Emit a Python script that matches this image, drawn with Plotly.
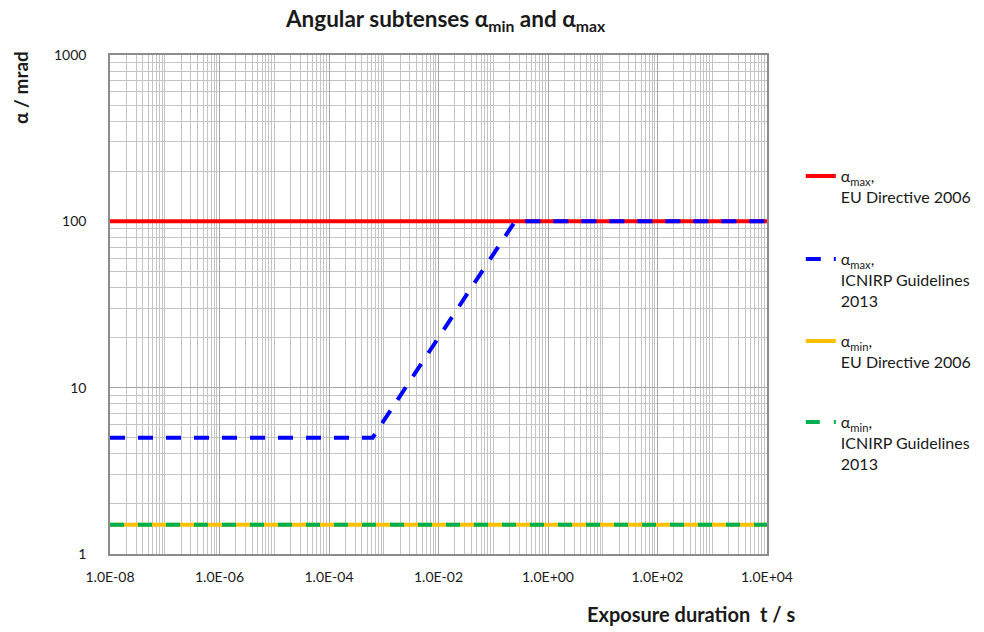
import plotly.graph_objects as go

# ---- data ----
t_eu_max = [1e-8, 1e4]
a_eu_max = [100, 100]

t_icnirp_max = [1e-8, 6.25e-4, 0.25, 1e4]
a_icnirp_max = [5, 5, 100, 100]

t_eu_min = [1e-8, 1e4]
a_eu_min = [1.5, 1.5]

t_icnirp_min = [1e-8, 1e4]
a_icnirp_min = [1.5, 1.5]

x_tick_vals = [10.0 ** e for e in range(-8, 5, 2)]
x_tick_text = ["1.0E%+03d" % e for e in range(-8, 5, 2)]
y_tick_vals = [1, 10, 100, 1000]
y_tick_text = ["1", "10", "100", "1000"]

x_minor = [m * 10.0 ** e for e in range(-8, 4) for m in range(2, 11)
           if not (m == 10 and (e + 1) % 2 == 0)]
y_minor = [m * 10.0 ** e for e in range(0, 3) for m in range(2, 10)]

FONT = "Lato, 'Open Sans', sans-serif"
TXT = "#1a1a1a"

# page offset (browser body margin) compensation
W, H = 976, 624
L, R, T, B = 102, 217, 47, 78
PW, PH = W - L - R, H - T - B

fig = go.Figure()
fig.add_trace(go.Scatter(x=t_eu_max, y=a_eu_max, mode="lines",
                         line=dict(color="#ff0000", width=4),
                         name="α<sub>max</sub>,<br>EU Directive 2006", legend="legend"))
fig.add_trace(go.Scatter(x=t_icnirp_max, y=a_icnirp_max, mode="lines",
                         line=dict(color="#0000ff", width=4, dash="15px,13px"),
                         name="α<sub>max</sub>,<br>ICNIRP Guidelines<br>2013", legend="legend2"))
fig.add_trace(go.Scatter(x=t_eu_min, y=a_eu_min, mode="lines",
                         line=dict(color="#ffc000", width=4),
                         name="α<sub>min</sub>,<br>EU Directive 2006", legend="legend3"))
fig.add_trace(go.Scatter(x=t_icnirp_min, y=a_icnirp_min, mode="lines",
                         line=dict(color="#00b050", width=4, dash="14px,14px"),
                         name="α<sub>min</sub>,<br>ICNIRP Guidelines<br>2013", legend="legend4"))

axis_common = dict(
    type="log", showline=True, mirror=True, linecolor="#8c8c8c", linewidth=1.5,
    showgrid=True, gridcolor="#a6a6a6", gridwidth=1, ticks="", zeroline=False,
    tickfont=dict(family=FONT, size=14, color=TXT),
)

fig.update_xaxes(
    **axis_common,
    range=[-8, 4],
    tickmode="array", tickvals=x_tick_vals, ticktext=x_tick_text,
    ticklabelstandoff=9,
    minor=dict(tickmode="array", tickvals=x_minor, showgrid=True,
               gridcolor="#c4c4c4", gridwidth=1, ticks=""),
)
fig.update_yaxes(
    **axis_common,
    range=[0, 3],
    tickmode="array", tickvals=y_tick_vals, ticktext=y_tick_text,
    ticklabelstandoff=19,
    minor=dict(tickmode="array", tickvals=y_minor, showgrid=True,
               gridcolor="#c4c4c4", gridwidth=1, ticks=""),
)


def leg(line_ref_y):
    top = line_ref_y - 8 - 16
    return dict(x=(797 - 8 - 5 - L) / PW + 0.0134, xanchor="left",
                y=1 - (top - T) / PH, yanchor="top",
                font=dict(family=FONT, size=16, color=TXT),
                valign="top", bgcolor="rgba(0,0,0,0)")


fig.update_layout(
    width=W, height=H,
    margin=dict(l=L, r=R, t=T, b=B, autoexpand=False),
    paper_bgcolor="white", plot_bgcolor="white",
    font=dict(family=FONT, color=TXT),
    showlegend=True,
    legend=leg(175),
    legend2=leg(258),
    legend3=leg(340),
    legend4=leg(421),
    annotations=[
        dict(text="<b>Angular subtenses α<sub>min</sub> and α<sub>max</sub></b>",
             xref="paper", yref="paper",
             x=(437 - L) / PW, xanchor="center", y=1 + (T - 12) / PH, yanchor="middle",
             showarrow=False, font=dict(family=FONT, size=22.5, color=TXT)),
        dict(text="<b>Exposure duration  t / s</b>", xref="paper", yref="paper",
             x=(789 - L) / PW, xanchor="right", y=-(606 - (T + PH)) / PH, yanchor="middle",
             showarrow=False, font=dict(family=FONT, size=20, color=TXT)),
        dict(text="<b>α / mrad</b>", xref="paper", yref="paper",
             x=-(L - 13) / PW, xanchor="center", y=(T + PH - 80) / PH, yanchor="middle",
             textangle=-90, showarrow=False, font=dict(family=FONT, size=19, color=TXT)),
    ],
)

fig.write_html("out.html")
